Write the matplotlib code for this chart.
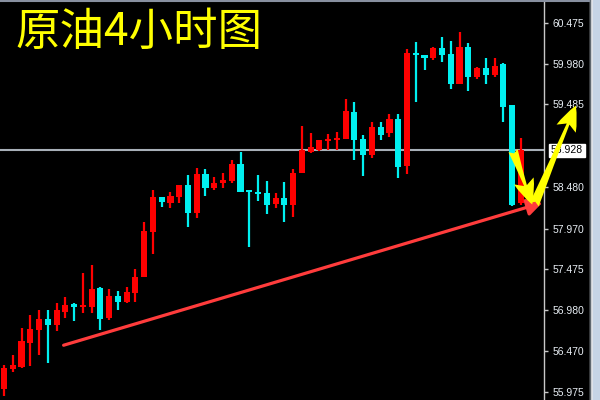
import matplotlib
matplotlib.use("Agg")
import matplotlib.pyplot as plt
from matplotlib.patches import Rectangle, FancyArrowPatch
from matplotlib.lines import Line2D
import numpy as np

plt.rcParams['font.family'] = ['Noto Sans CJK SC', 'DejaVu Sans']

# 4小时K线 (开, 高, 低, 收)
opens = [56.010, 56.255, 56.279, 56.572, 56.731, 56.865, 56.792, 56.950, 57.048, 57.011,
         57.011, 57.244, 56.877, 57.146, 57.073, 57.182, 57.378, 57.927, 58.355, 58.281,
         58.355, 58.501, 58.159, 58.635, 58.464, 58.525, 58.550, 58.757, 58.440, 58.416,
         58.403, 58.269, 58.342, 58.257, 58.648, 58.904, 58.929, 59.038, 59.051, 59.063,
         59.392, 59.063, 58.867, 59.209, 59.136, 59.307, 58.733, 60.113, 60.088, 60.052,
         60.174, 60.101, 59.734, 60.186, 59.820, 59.930, 59.844, 59.978, 59.478, 58.281]
highs = [56.303, 56.425, 56.755, 56.914, 56.975, 56.975, 57.060, 57.134, 57.060, 57.427,
         57.524, 57.256, 57.231, 57.207, 57.256, 57.476, 58.049, 58.440, 58.355, 58.416,
         58.501, 58.623, 58.709, 58.697, 58.599, 58.648, 58.806, 58.904, 58.440, 58.623,
         58.550, 58.403, 58.538, 58.697, 59.222, 59.136, 59.051, 59.124, 59.148, 59.551,
         59.515, 59.112, 59.270, 59.270, 59.368, 59.368, 60.162, 60.247, 60.088, 60.186,
         60.308, 60.259, 60.369, 60.235, 59.942, 60.052, 60.052, 59.991, 59.478, 59.075]
lows = [55.925, 56.218, 56.267, 56.291, 56.425, 56.328, 56.718, 56.877, 56.841, 56.938,
        56.938, 56.731, 56.853, 56.975, 57.060, 57.073, 57.378, 57.659, 58.232, 58.220,
        58.281, 57.988, 58.098, 58.367, 58.440, 58.464, 58.525, 58.416, 57.744, 58.306,
        58.147, 58.220, 58.049, 58.110, 58.648, 58.892, 58.916, 58.929, 58.929, 59.063,
        58.806, 58.611, 58.831, 59.051, 59.087, 58.587, 58.635, 59.515, 59.905, 60.027,
        60.003, 59.673, 59.734, 59.649, 59.795, 59.734, 59.820, 59.270, 58.245, 58.257]
closes = [56.267, 56.303, 56.596, 56.743, 56.865, 56.792, 56.975, 57.036, 57.011, 57.036,
          57.231, 56.865, 57.146, 57.073, 57.195, 57.378, 57.939, 58.355, 58.294, 58.367,
          58.501, 58.159, 58.635, 58.464, 58.525, 58.562, 58.757, 58.416, 58.416, 58.391,
          58.257, 58.342, 58.257, 58.648, 58.929, 58.965, 59.051, 59.063, 59.075, 59.405,
          59.051, 58.867, 59.209, 59.112, 59.307, 58.721, 60.113, 60.088, 60.052, 60.174,
          60.088, 59.734, 60.186, 59.820, 59.930, 59.844, 59.954, 59.453, 58.257, 58.929]

price_ticks = [60.475, 59.980, 59.485, 58.480, 57.970, 57.475, 56.980, 56.470, 55.975]
current_price = 58.928
title = "原油4小时图"

# 趋势线和箭头 (K线序号, 价格)
trend_line = [(6.5, 56.535), (61.75, 58.294)]
arrow_down = [(58.0, 58.953), (60.4, 58.232)]
arrow_up = [(60.4, 58.232), (65.4, 59.502)]

fig = plt.figure(figsize=(6, 4), dpi=100, facecolor="black")
ax = fig.add_axes([0, 0, 544 / 600, 398 / 400])
ax.set_facecolor("black")

x = np.arange(len(opens))
o = np.array(opens)
c = np.array(closes)
up = c >= o
colors = np.where(up, "#ff0000", "#00f0f0")

ax.vlines(x, lows, highs, colors=colors, lw=1.6, zorder=2)
bottom = np.minimum(o, c)
height = np.maximum(np.abs(c - o), 0.03)
ax.bar(x, height, bottom=bottom, width=0.7, color=colors, lw=0, zorder=3)

ax.axhline(current_price, color="#a8b0b8", lw=1.5, zorder=1)

ax.set_xlim(-0.457, 61.64)
ax.set_ylim(55.876, 60.736)

for s in ["left", "top", "bottom"]:
    ax.spines[s].set_visible(False)
ax.spines["right"].set_color("#c8c8c8")
ax.spines["right"].set_linewidth(1)
ax.set_xticks([])
ax.yaxis.tick_right()
ax.set_yticks(price_ticks)
ax.set_yticklabels(["%.3f" % v for v in price_ticks])
ax.tick_params(axis="y", colors="#c8c8c8", length=3, width=1, pad=3,
               labelcolor="#e8eef4", labelsize=7.5)
for lb in ax.get_yticklabels():
    lb.set_family(["Liberation Sans", "DejaVu Sans"])

# 当前价格标签
ax.annotate("%.3f" % current_price, xy=(1.0, current_price),
            xycoords=("axes fraction", "data"), xytext=(5, 0),
            textcoords="offset points", va="center", ha="left",
            fontsize=7.5, family=["Liberation Sans", "DejaVu Sans"], color="black",
            bbox=dict(boxstyle="square,pad=0.15", fc="white", ec="white"),
            annotation_clip=False, zorder=6)

# 红色趋势线
ax.add_patch(FancyArrowPatch(trend_line[0], trend_line[1],
                             arrowstyle="-|>,head_length=0.45,head_width=0.25",
                             mutation_scale=20, color="#ff3c3c", lw=2.3,
                             clip_on=False, zorder=5))

# 黄色箭头
for seg in (arrow_down, arrow_up):
    ax.add_patch(FancyArrowPatch(seg[0], seg[1],
                                 arrowstyle="fancy,head_length=0.9,head_width=0.75,tail_width=0.35",
                                 mutation_scale=20, color="#ffff00", lw=0,
                                 clip_on=False, zorder=7))

fig.text(15 / 600, 1 - 32 / 400, title, color="#ffff00", fontsize=32,
         va="center", ha="left")

# 顶部边框和右侧滚动条
fig.add_artist(Line2D([0, 589 / 600], [0.998, 0.998], color="#8890a0", lw=1.5))
fig.add_artist(Line2D([589.5 / 600, 589.5 / 600], [0, 1], color="#606870", lw=1))
fig.add_artist(Rectangle((590 / 600, 0), 3 / 600, 1, color="#e4e6ea"))
fig.add_artist(Rectangle((593 / 600, 0), 7 / 600, 1, color="#c6d4e6"))

fig.savefig("out.png", dpi=100, facecolor="black")
